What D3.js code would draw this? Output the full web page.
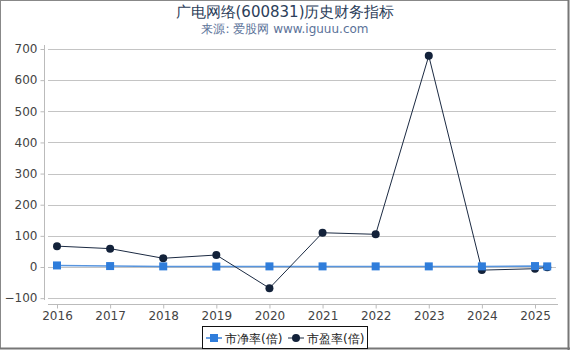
<!DOCTYPE html>
<html><head><meta charset="utf-8">
<script src="https://cdn.jsdelivr.net/npm/d3@7"></script>
<style>body{margin:0;background:#fff;font-family:"DejaVu Sans",sans-serif;}</style>
</head><body><svg id="c" width="570" height="350"></svg>
<script>
const years = [2016, 2017, 2018, 2019, 2020, 2021, 2022, 2023, 2024, 2025, 2025.23];
const pbValues = [5, 3, 2, 1.5, 2, 2, 2, 2, 2, 3, 2];
const peValues = [67, 59, 28, 38.5, -68, 110, 105, 678, -10, -5.5, -1];
const xTickYears = [2016, 2017, 2018, 2019, 2020, 2021, 2022, 2023, 2024, 2025];
const yTicks = [-100, 0, 100, 200, 300, 400, 500, 600, 700];
const seriesNames = ["市净率(倍)", "市盈率(倍)"];

const svg = d3.select("#c");
const x = d3.scaleLinear().domain([2016, 2025]).range([57, 535]);
const y = d3.scaleLinear().domain([0, 700]).range([267, 49]);

svg.append("rect").attr("x",0.5).attr("y",0.5).attr("width",568).attr("height",348)
  .attr("fill","#fff").attr("stroke","#888").attr("stroke-width",1);
svg.append("line").attr("x1",568.5).attr("x2",568.5).attr("y1",0).attr("y2",350).attr("stroke","#777").attr("stroke-width",2);
svg.append("line").attr("x1",0).attr("x2",570).attr("y1",348.5).attr("y2",348.5).attr("stroke","#777").attr("stroke-width",2);

svg.append("text").attr("x",285).attr("y",17).attr("text-anchor","middle")
  .attr("font-size",15).attr("fill","#2c3e5a").text("广电网络(600831)历史财务指标");
svg.append("text").attr("x",285).attr("y",33).attr("text-anchor","middle")
  .attr("font-size",12).attr("fill","#5b7299").text("来源: 爱股网 www.iguuu.com");

// grid
svg.append("g").selectAll("line").data(yTicks).join("line")
  .attr("x1",48).attr("x2",556).attr("y1",d=>Math.round(y(d))+0.5).attr("y2",d=>Math.round(y(d))+0.5)
  .attr("stroke","#c4c4c4").attr("stroke-width",1);

// y axis
const ya = svg.append("g").attr("transform","translate(44.5,0)")
  .call(d3.axisLeft(y).tickValues(yTicks).tickSize(4).tickPadding(3).tickFormat(d3.format("d")));
ya.select(".domain").attr("stroke","#bbb").attr("d","M0,45V300");
ya.selectAll(".tick line").attr("stroke","#bbb");
ya.selectAll(".tick text").attr("font-size",12).attr("fill","#444").attr("font-family","DejaVu Sans");

// x axis
const xa = svg.append("g").attr("transform","translate(0,304.5)")
  .call(d3.axisBottom(x).tickValues(xTickYears).tickSize(4).tickPadding(3).tickFormat(d3.format("d")));
xa.select(".domain").attr("stroke","#bbb").attr("d","M48,0H558");
xa.selectAll(".tick line").attr("stroke","#bbb");
xa.selectAll(".tick text").attr("font-size",12).attr("fill","#444").attr("font-family","DejaVu Sans");

const pb = years.map((d,i)=>[d,pbValues[i]]);
const pe = years.map((d,i)=>[d,peValues[i]]);
const line = d3.line().x(d=>x(d[0])).y(d=>y(d[1]));

svg.append("path").attr("d",line(pb)).attr("fill","none").attr("stroke","#3b82d8").attr("stroke-width",1.5).attr("opacity",0.85);
svg.append("path").attr("d",line(pe)).attr("fill","none").attr("stroke","#1b2a42").attr("stroke-width",1);

svg.append("g").selectAll("circle").data(pe).join("circle")
  .attr("cx",d=>x(d[0])).attr("cy",d=>y(d[1])).attr("r",4).attr("fill","#13223a");
svg.append("g").selectAll("rect").data(pb).join("rect")
  .attr("x",d=>x(d[0])-4).attr("y",d=>y(d[1])-4).attr("width",8).attr("height",8).attr("fill","#2f7ddb");

// legend
const lg = svg.append("g");
lg.append("rect").attr("x",202.5).attr("y",326.5).attr("width",165).attr("height",22)
  .attr("fill","#fff").attr("stroke","#111").attr("stroke-width",1);
lg.append("line").attr("x1",206).attr("x2",222).attr("y1",338).attr("y2",338).attr("stroke","#3b82d8").attr("stroke-width",1.5);
lg.append("rect").attr("x",210).attr("y",334).attr("width",8).attr("height",8).attr("fill","#2f7ddb");
lg.append("text").attr("x",225).attr("y",342.5).attr("font-size",12).attr("fill","#222").text(seriesNames[0]);
lg.append("line").attr("x1",288).attr("x2",304).attr("y1",338).attr("y2",338).attr("stroke","#1b2a42").attr("stroke-width",1);
lg.append("circle").attr("cx",296).attr("cy",338).attr("r",4).attr("fill","#13223a");
lg.append("text").attr("x",307).attr("y",342.5).attr("font-size",12).attr("fill","#222").text(seriesNames[1]);
</script></body></html>
